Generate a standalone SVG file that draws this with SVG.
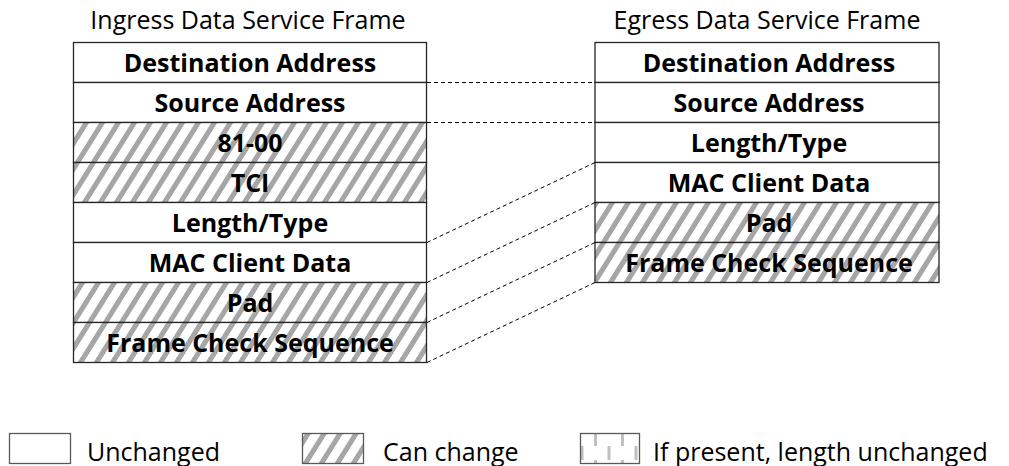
<svg xmlns="http://www.w3.org/2000/svg" width="1009" height="466" viewBox="0 0 1009 466">
<defs>
<pattern id="hatch" patternUnits="userSpaceOnUse" width="16" height="20" patternTransform="skewX(-32)">
<rect width="16" height="20" fill="#fff"/>
<rect x="0" width="6" height="20" fill="#a6a6a6"/>
</pattern>
<pattern id="vdash" patternUnits="userSpaceOnUse" x="580" y="434" width="27" height="26">
<rect width="27" height="26" fill="#fff"/>
<rect x="0.5" y="12" width="3" height="14" fill="#c0c0c0"/>
<rect x="14" y="0" width="3" height="12" fill="#c0c0c0"/>
</pattern>
</defs>
<style>
.cell{stroke:#262626;stroke-width:1.3}
.u{fill:#fff}
.h{fill:url(#hatch)}
.lbl{font-family:"Open Sans","Liberation Sans",sans-serif;font-weight:bold;font-size:25px;text-anchor:middle;fill:#000}
.ttl{font-family:"Open Sans","Liberation Sans",sans-serif;font-size:25px;text-anchor:middle;fill:#000}
.leg{font-family:"Open Sans","Liberation Sans",sans-serif;font-size:25px;fill:#000}
.lbox{stroke:#595959;stroke-width:1.3}
.conn{stroke:#000;stroke-width:1;stroke-dasharray:4 3;fill:none}
</style>
<rect width="1009" height="466" fill="#fff"/>
<text class="ttl" x="248" y="29">Ingress Data Service Frame</text>
<text class="ttl" x="767" y="29">Egress Data Service Frame</text>

<g id="in-dest"><rect class="cell u" x="73.5" y="42.5" width="353" height="40"/><text class="lbl" x="250" y="71.5">Destination Address</text></g>
<g id="in-src"><rect class="cell u" x="73.5" y="82.5" width="353" height="40"/><text class="lbl" x="250" y="111.5">Source Address</text></g>
<g id="in-tpid"><rect class="cell h" x="73.5" y="122.5" width="353" height="40"/><text class="lbl" x="250" y="151.5">81-00</text></g>
<g id="in-tci"><rect class="cell h" x="73.5" y="162.5" width="353" height="40"/><text class="lbl" x="250" y="191.5">TCI</text></g>
<g id="in-len"><rect class="cell u" x="73.5" y="202.5" width="353" height="40"/><text class="lbl" x="250" y="231.5">Length/Type</text></g>
<g id="in-mac"><rect class="cell u" x="73.5" y="242.5" width="353" height="40"/><text class="lbl" x="250" y="271.5">MAC Client Data</text></g>
<g id="in-pad"><rect class="cell h" x="73.5" y="282.5" width="353" height="40"/><text class="lbl" x="250" y="311.5">Pad</text></g>
<g id="in-fcs"><rect class="cell h" x="73.5" y="322.5" width="353" height="40"/><text class="lbl" x="250" y="351.5">Frame Check Sequence</text></g>

<g id="eg-dest"><rect class="cell u" x="595" y="42.5" width="344" height="40"/><text class="lbl" x="769" y="71.5">Destination Address</text></g>
<g id="eg-src"><rect class="cell u" x="595" y="82.5" width="344" height="40"/><text class="lbl" x="769" y="111.5">Source Address</text></g>
<g id="eg-len"><rect class="cell u" x="595" y="122.5" width="344" height="40"/><text class="lbl" x="769" y="151.5">Length/Type</text></g>
<g id="eg-mac"><rect class="cell u" x="595" y="162.5" width="344" height="40"/><text class="lbl" x="769" y="191.5">MAC Client Data</text></g>
<g id="eg-pad"><rect class="cell h" x="595" y="202.5" width="344" height="40"/><text class="lbl" x="769" y="231.5">Pad</text></g>
<g id="eg-fcs"><rect class="cell h" x="595" y="242.5" width="344" height="40"/><text class="lbl" x="769" y="271.5">Frame Check Sequence</text></g>

<g id="connectors">
<line class="conn" x1="427" y1="82.5" x2="595" y2="82.5"/>
<line class="conn" x1="427" y1="122.5" x2="595" y2="122.5"/>
<line class="conn" x1="427" y1="242.5" x2="595" y2="162.5"/>
<line class="conn" x1="427" y1="282.5" x2="595" y2="202.5"/>
<line class="conn" x1="427" y1="322.5" x2="595" y2="242.5"/>
<line class="conn" x1="427" y1="362.5" x2="595" y2="282.5"/>
</g>

<g id="legend-unchanged"><rect class="lbox" x="9.5" y="433.5" width="61" height="30" fill="#fff"/><text class="leg" x="87" y="461">Unchanged</text></g>
<g id="legend-can-change"><rect class="lbox" x="302.5" y="433.5" width="61" height="30" fill="url(#hatch)"/><text class="leg" x="383" y="461">Can change</text></g>
<g id="legend-if-present"><rect class="lbox" x="580.5" y="433.5" width="59" height="30" fill="url(#vdash)"/><text class="leg" x="653" y="461">If present, length unchanged</text></g>
</svg>
